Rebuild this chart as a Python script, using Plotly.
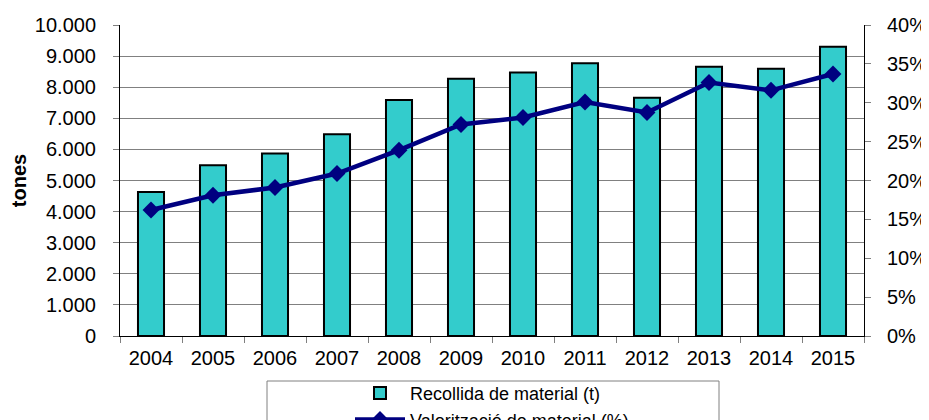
import plotly.graph_objects as go

years = ["2004", "2005", "2006", "2007", "2008", "2009", "2010", "2011", "2012", "2013", "2014", "2015"]
recollida_t = [4630, 5490, 5870, 6490, 7590, 8270, 8470, 8770, 7660, 8660, 8590, 9300]
valoritzacio_pct = [16.2, 18.1, 19.1, 20.9, 23.9, 27.2, 28.1, 30.1, 28.75, 32.6, 31.6, 33.7]
left_ticks = [0, 1000, 2000, 3000, 4000, 5000, 6000, 7000, 8000, 9000, 10000]
right_ticks = [0, 5, 10, 15, 20, 25, 30, 35, 40]
right_labels = [f"{v}%" for v in right_ticks]

FONT = "Liberation Sans, Arial, sans-serif"

fig = go.Figure()
fig.add_trace(go.Bar(
    x=years, y=recollida_t, name="Recollida de material (t)",
    marker=dict(color="#33CCCC", line=dict(color="#000000", width=2)),
    yaxis="y",
))
fig.add_trace(go.Scatter(
    x=years, y=valoritzacio_pct, name="Valorització de material (%)",
    mode="lines+markers",
    line=dict(color="#000080", width=4.5),
    marker=dict(symbol="diamond", size=13, color="#000080"),
    yaxis="y2",
))

# figure sits at an 8px page offset: plot area spans x 120..864, y 25..336
fig.update_layout(
    width=921, height=412,
    paper_bgcolor="white", plot_bgcolor="white",
    margin=dict(l=112, r=65, t=17, b=84, autoexpand=False),
    separators=",.",
    bargap=0.58,
    font=dict(family=FONT, size=20, color="black"),
    showlegend=True,
    legend=dict(
        orientation="v", x=0.5, xanchor="center", y=-0.125, yanchor="top",
        font=dict(family=FONT, size=18, color="black"),
        itemwidth=50, tracegroupgap=0,
        bgcolor="rgba(0,0,0,0)", borderwidth=0,
    ),
    xaxis=dict(
        type="category", range=[-0.5, len(years) - 0.5],
        tickson="boundaries", ticks="outside", ticklen=6,
        tickcolor="#808080", showline=True, linecolor="black", linewidth=1,
        showgrid=False, tickfont=dict(size=20), ticklabelstandoff=4,
    ),
    yaxis=dict(
        range=[0, 10000], tickvals=left_ticks, tickformat=",d",
        ticks="outside", ticklen=6, tickcolor="#808080",
        showline=True, linecolor="black", linewidth=1,
        showgrid=True, gridcolor="#808080", gridwidth=1,
        tickfont=dict(size=20), ticklabelstandoff=13,
        title=dict(text="<b>tones</b>", font=dict(size=20), standoff=12),
        zeroline=False,
    ),
    yaxis2=dict(
        range=[0, 40], tickvals=right_ticks, ticktext=right_labels,
        overlaying="y", side="right",
        ticks="outside", ticklen=6, tickcolor="#808080",
        showline=True, linecolor="black", linewidth=1,
        showgrid=False, zeroline=False,
        tickfont=dict(size=20), ticklabelstandoff=12,
    ),
    shapes=[dict(
        type="rect", xref="paper", yref="paper",
        x0=(267 - 120) / 744, x1=(719 - 120) / 744,
        y0=-0.35, y1=(336 - 381) / 311,
        line=dict(color="#808080", width=1), fillcolor="rgba(0,0,0,0)",
    )],
)

fig.write_html("out.html")
